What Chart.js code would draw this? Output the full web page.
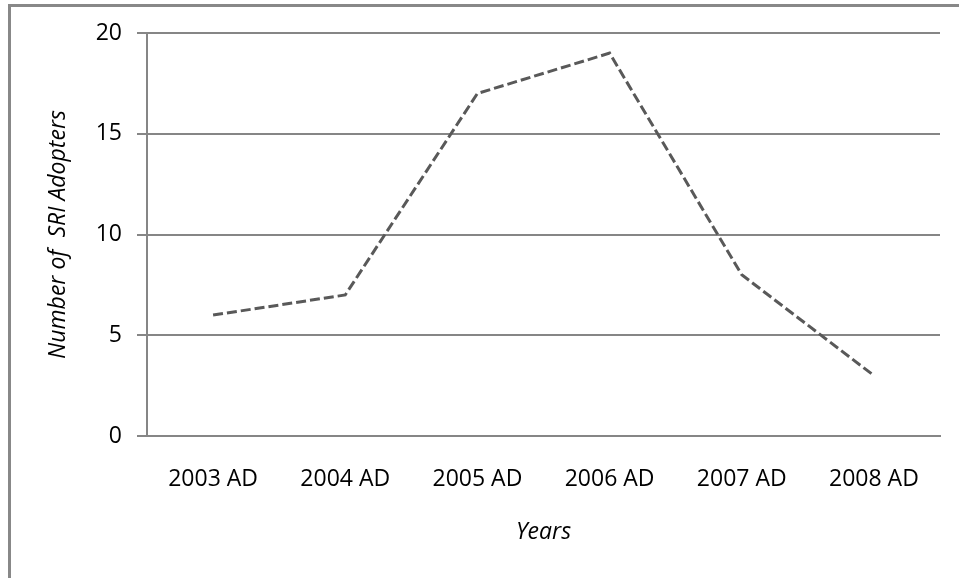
<!DOCTYPE html>
<html>
<head>
<meta charset="utf-8">
<script src="https://cdn.jsdelivr.net/npm/chart.js@4.4.1/dist/chart.umd.min.js"></script>
<style>
  html, body { margin: 0; padding: 0; background: #fff; }
  #wrap { position: relative; width: 959px; height: 578px; overflow: hidden; }
  #frame {
    position: absolute; left: 8px; top: 4px; width: 1000px; height: 700px;
    border-top: 3px solid #888; border-left: 3px solid #888;
  }
  canvas { position: absolute; left: 0; top: 0; }
</style>
</head>
<body>
<div id="wrap">
  <div id="frame"></div>
  <canvas id="chart" width="959" height="578"></canvas>
</div>
<script>
// ===== DATA =====
const years = ['2003 AD', '2004 AD', '2005 AD', '2006 AD', '2007 AD', '2008 AD'];
const adopters = [6, 7, 17, 19, 8, 3];
const yMin = 0;
const yMax = 20;
const yStep = 5;

const font = 'Open Sans';
const gray = '#868686';

// ===== CHART =====
const ctx = document.getElementById('chart').getContext('2d');
new Chart(ctx, {
  type: 'line',
  data: {
    labels: years,
    datasets: [{
      label: 'SRI Adopters',
      data: adopters,
      borderColor: '#595959',
      borderWidth: 3,
      borderDash: [10, 4],
      pointRadius: 0,
      tension: 0,
      fill: false
    }]
  },
  options: {
    responsive: false,
    animation: false,
    devicePixelRatio: 1,
    layout: { padding: { top: 33, right: 19, left: 0, bottom: 0 } },
    plugins: {
      legend: { display: false },
      tooltip: { enabled: false }
    },
    scales: {
      x: {
        offset: true,
        afterFit: s => { s.height = 142; },
        grid: { display: false, drawTicks: false, offset: true },
        border: { display: true, color: gray, width: 2 },
        ticks: { color: '#000', padding: 30, maxRotation: 0, font: { family: font, size: 23 } },
        title: {
          display: true,
          text: 'Years',
          color: '#000',
          padding: { top: 0, bottom: 32 },
          font: { family: font, size: 23, style: 'italic' }
        }
      },
      y: {
        min: yMin,
        max: yMax,
        afterFit: s => { s.width = 147; },
        grid: { color: gray, lineWidth: 2, tickLength: 10, drawTicks: true },
        border: { display: true, color: gray, width: 2 },
        ticks: {
          stepSize: yStep,
          color: '#000',
          padding: 15,
          font: { family: font, size: 23 }
        },
        title: {
          display: true,
          text: 'Number of  SRI Adopters',
          color: '#000',
          padding: { top: 45, bottom: 0 },
          font: { family: font, size: 23, style: 'italic' }
        }
      }
    }
  }
});
</script>
</body>
</html>
